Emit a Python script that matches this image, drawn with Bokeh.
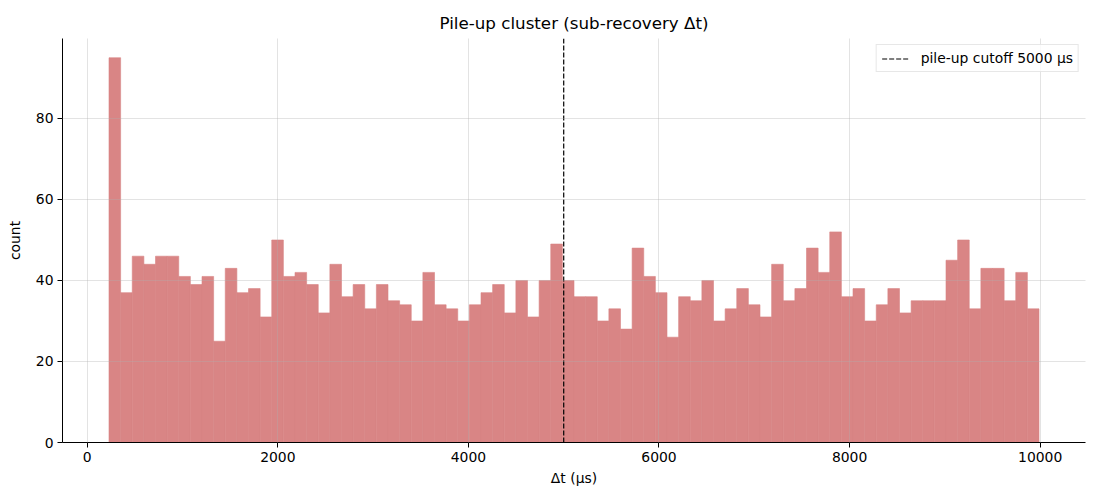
import numpy as np
from bokeh.plotting import figure
from bokeh.models import ColumnDataSource, Range1d, FixedTicker
from bokeh.embed import file_html
from bokeh.resources import INLINE

# ---- data ----
counts = [95, 37, 46, 44, 46, 46, 41, 39, 41, 25,
          43, 37, 38, 31, 50, 41, 42, 39, 32, 44,
          36, 39, 33, 39, 35, 34, 30, 42, 34, 33,
          30, 34, 37, 39, 32, 40, 31, 40, 49, 40,
          36, 36, 30, 33, 28, 48, 41, 37, 26, 36,
          35, 40, 30, 33, 38, 34, 31, 44, 35, 38,
          48, 42, 52, 36, 38, 30, 34, 38, 32, 35,
          35, 35, 45, 50, 33, 43, 43, 35, 42, 33]
dt_min = 228.0      # smallest Δt (μs)
dt_max = 9988.0     # largest Δt (μs)
cutoff = 5000       # pile-up cutoff (μs)
x_ticks = [0, 2000, 4000, 6000, 8000, 10000]
y_ticks = [0, 20, 40, 60, 80]

edges = np.linspace(dt_min, dt_max, len(counts) + 1)
src = ColumnDataSource(dict(left=edges[:-1], right=edges[1:],
                            top=counts, bottom=[0] * len(counts)))

span = dt_max - dt_min
y_top = max(counts) * 1.05

FONT = "DejaVu Sans"
BAR = "#d98585"
p = figure(width=1092, height=492, output_backend="svg", toolbar_location=None,
           x_range=Range1d(dt_min - 0.05 * span, dt_max + 0.05 * span),
           y_range=Range1d(0, y_top),
           title="Pile-up cluster (sub-recovery Δt)",
           min_border_left=62, min_border_right=7, min_border_top=38, min_border_bottom=50)

p.quad(left="left", right="right", top="top", bottom="bottom", source=src,
       fill_color=BAR, line_color=BAR, line_width=0.6)
p.line(x=[cutoff, cutoff], y=[0, y_top], line_color="black", line_width=1.2,
       line_dash="5 2", legend_label="pile-up cutoff 5000 μs")

p.title.text_font = FONT
p.title.text_font_size = "16.7px"
p.title.text_font_style = "normal"
p.title.align = "center"
p.title.text_color = "black"
p.title.standoff = 12

p.outline_line_color = None
p.background_fill_color = "white"

for ax in (p.xaxis, p.yaxis):
    ax.axis_line_color = "black"
    ax.axis_line_width = 1
    ax.major_tick_line_color = "black"
    ax.major_tick_out = 5
    ax.major_tick_in = 0
    ax.minor_tick_line_color = None
    ax.major_label_text_font = FONT
    ax.major_label_text_font_size = "13.9px"
    ax.major_label_text_color = "black"
    ax.axis_label_text_font = FONT
    ax.axis_label_text_font_size = "13.9px"
    ax.axis_label_text_font_style = "normal"
    ax.axis_label_text_color = "black"

p.xaxis.ticker = FixedTicker(ticks=x_ticks)
p.yaxis.ticker = FixedTicker(ticks=y_ticks)
p.xaxis.axis_label = "Δt (μs)"
p.yaxis.axis_label = "count"
p.xaxis.major_label_standoff = 4
p.yaxis.major_label_standoff = 4
p.xaxis.axis_label_standoff = 5
p.yaxis.axis_label_standoff = 10

for g in (p.xgrid, p.ygrid):
    g.grid_line_color = "#b0b0b0"
    g.grid_line_alpha = 0.35
    g.grid_line_width = 1
    g.level = "guide"

p.legend.location = "top_right"
p.legend.label_text_font = FONT
p.legend.label_text_font_size = "13.9px"
p.legend.label_text_color = "black"
p.legend.border_line_color = "#d0d0d0"
p.legend.border_line_width = 1
p.legend.background_fill_alpha = 0.8
p.legend.glyph_width = 28
p.legend.glyph_height = 15
p.legend.padding = 5
p.legend.spacing = 0
p.legend.margin = 6
p.legend.label_standoff = 11

open("out.html", "w").write(file_html(p, INLINE))
